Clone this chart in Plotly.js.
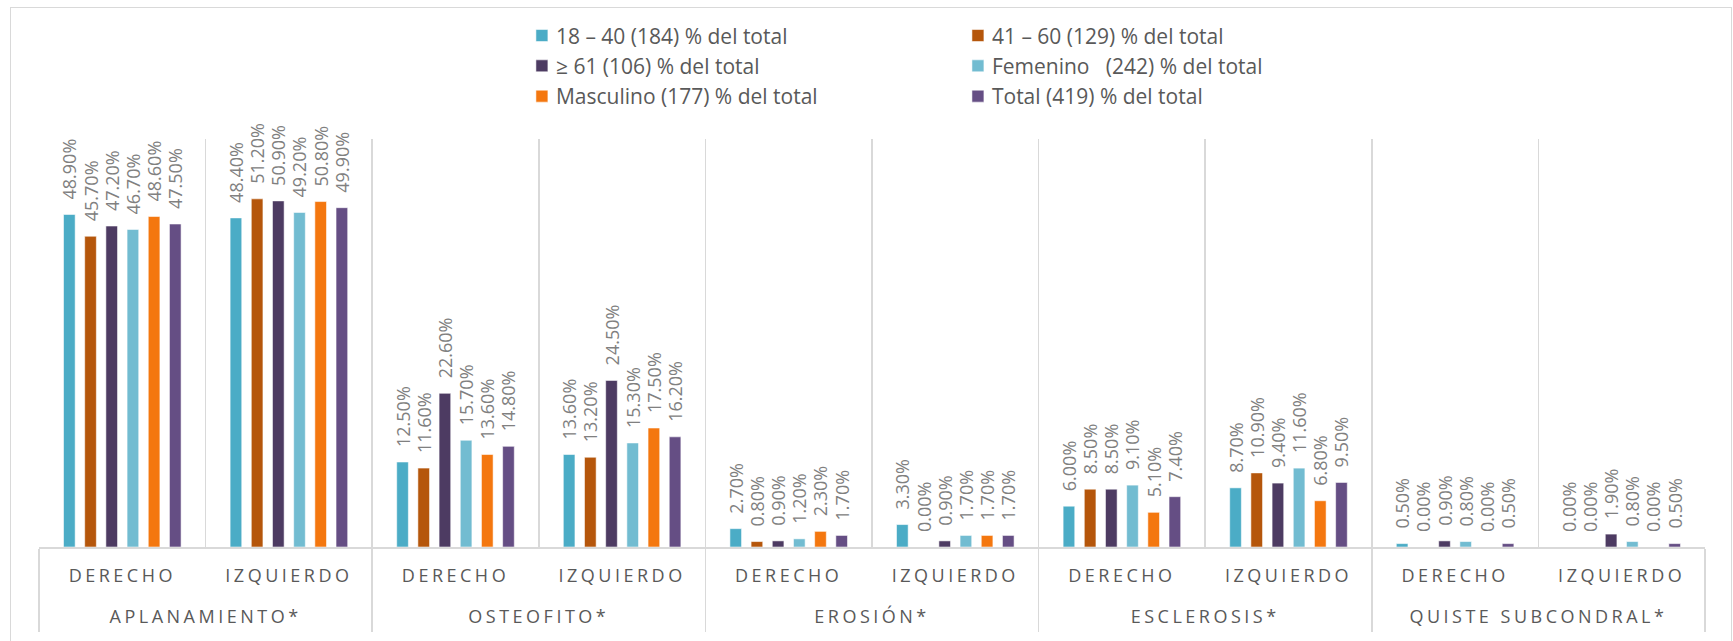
<!DOCTYPE html>
<html>
<head>
<meta charset="utf-8">
<script src="https://cdn.plot.ly/plotly-3.0.1.min.js"></script>
<style>
  html, body { margin: 0; padding: 0; background: #ffffff; }
  #chart { width: 1733px; height: 641px; position: relative; }
  #frame { position: absolute; left: 10px; top: 7px; width: 1722px; height: 700px;
           border: 1px solid #d9d9d9; pointer-events: none; box-sizing: border-box; }
</style>
</head>
<body>
<div id="chart"></div>
<div id="frame"></div>
<script>
// Categories
const groups = ["APLANAMIENTO*", "OSTEOFITO*", "EROSIÓN*", "ESCLEROSIS*", "QUISTE SUBCONDRAL*"];
const sides = ["DERECHO", "IZQUIERDO"];

// Series names
const seriesNames = [
  "18 – 40 (184) % del total",
  "41 – 60 (129) % del total",
  "≥ 61 (106) % del total",
  "Femenino   (242) % del total",
  "Masculino (177) % del total",
  "Total (419) % del total"
];

// Values (percent), order: APL-D, APL-I, OST-D, OST-I, ERO-D, ERO-I, ESC-D, ESC-I, QS-D, QS-I
const edad18_40   = [48.9, 48.4, 12.5, 13.6, 2.7, 3.3, 6.0, 8.7, 0.5, 0.0];
const edad41_60   = [45.7, 51.2, 11.6, 13.2, 0.8, 0.0, 8.5, 10.9, 0.0, 0.0];
const edad61      = [47.2, 50.9, 22.6, 24.5, 0.9, 0.9, 8.5, 9.4, 0.9, 1.9];
const femenino    = [46.7, 49.2, 15.7, 15.3, 1.2, 1.7, 9.1, 11.6, 0.8, 0.8];
const masculino   = [48.6, 50.8, 13.6, 17.5, 2.3, 1.7, 5.1, 6.8, 0.0, 0.0];
const total       = [47.5, 49.9, 14.8, 16.2, 1.7, 1.7, 7.4, 9.5, 0.5, 0.5];

const seriesValues = [edad18_40, edad41_60, edad61, femenino, masculino, total];
const colors = ["#4BACC6", "#B5560B", "#4D3B62", "#72BCD1", "#F4770F", "#654E84"];

// Build multicategory x arrays
const xOuter = [], xInner = [];
groups.forEach(g => sides.forEach(s => { xOuter.push(g); xInner.push(s); }));

const traces = seriesNames.map((name, i) => ({
  type: "bar",
  name: name,
  x: [xOuter, xInner],
  y: seriesValues[i],
  texttemplate: "%{y:.2f}%",
  textposition: "outside",
  textangle: -90,
  constraintext: "none",
  cliponaxis: false,
  textfont: { family: "Open Sans", size: 18, color: "#808080" },
  marker: { color: colors[i], line: { color: "rgba(255,255,255,0.55)", width: 1 } },
  legend: (i % 2 === 0) ? "legend" : "legend2",
  legendgroup: "g" + i,
  hoverinfo: "skip"
}));

const legendFont = { family: "Open Sans", size: 21, color: "#595959" };
const layout = {
  width: 1733,
  height: 641,
  margin: { l: 39, r: 28, t: 139, b: 94, autoexpand: false },
  paper_bgcolor: "#ffffff",
  plot_bgcolor: "#ffffff",
  barmode: "group",
  bargap: 0.237,
  bargroupgap: 0.45,
  showlegend: true,
  legend: {
    xref: "container", yref: "container",
    x: 0.2977, y: 0.976, xanchor: "left", yanchor: "top",
    orientation: "v", font: legendFont, tracegroupgap: 0,
    bgcolor: "rgba(0,0,0,0)"
  },
  legend2: {
    xref: "container", yref: "container",
    x: 0.5493, y: 0.976, xanchor: "left", yanchor: "top",
    orientation: "v", font: legendFont, tracegroupgap: 0,
    bgcolor: "rgba(0,0,0,0)"
  },
  xaxis: {
    type: "multicategory",
    showgrid: true,
    gridcolor: "#d9d9d9",
    gridwidth: 1.5,
    showline: true,
    linecolor: "#d9d9d9",
    linewidth: 2,
    ticks: "",
    tickangle: 0,
    showdividers: true,
    dividercolor: "#d9d9d9",
    dividerwidth: 1.5,
    tickfont: { family: "Open Sans", size: 18, color: "#595959" }
  },
  yaxis: {
    range: [0, 60],
    visible: false,
    showgrid: false,
    zeroline: false
  },
  font: { family: "Open Sans" }
};

Plotly.newPlot("chart", traces, layout, { displayModeBar: false, staticPlot: true }).then(gd => {
  const top0 = gd.getBoundingClientRect().top;
  // Excel-like letter spacing and row placement of the category labels
  gd.querySelectorAll(".xaxislayer-above text").forEach(t => {
    t.style.letterSpacing = "3.5px";
    const r = t.getBoundingClientRect();
    const cy = (r.top + r.bottom) / 2 - top0;
    const target = groups.includes(t.textContent.trim()) ? 616 : 575;
    const tr = t.getAttribute("transform") || "";
    t.setAttribute("transform", "translate(0," + (target - cy).toFixed(1) + ") " + tr);
  });
  // Extend the group dividers down to the bottom of the label area
  gd.querySelectorAll('path[class*="divider"]').forEach(p => {
    const bb = p.getBBox();
    const r = p.getBoundingClientRect();
    const extra = 632 - (r.bottom - top0);
    p.setAttribute("d", "M" + (bb.x + bb.width / 2) + "," + bb.y + "V" + (bb.y + bb.height + extra));
  });
  // Data labels sit a little further above the bars, as in the source
  gd.querySelectorAll("text.bartext").forEach(t => {
    const tr = t.getAttribute("transform") || "";
    t.setAttribute("transform", "translate(0,-12) " + tr);
  });
  // Legend swatches closer to their text
  gd.querySelectorAll(".legendsymbols").forEach(g => {
    const tr = g.getAttribute("transform") || "";
    g.setAttribute("transform", "translate(6,0) " + tr);
  });
});
</script>
</body>
</html>
